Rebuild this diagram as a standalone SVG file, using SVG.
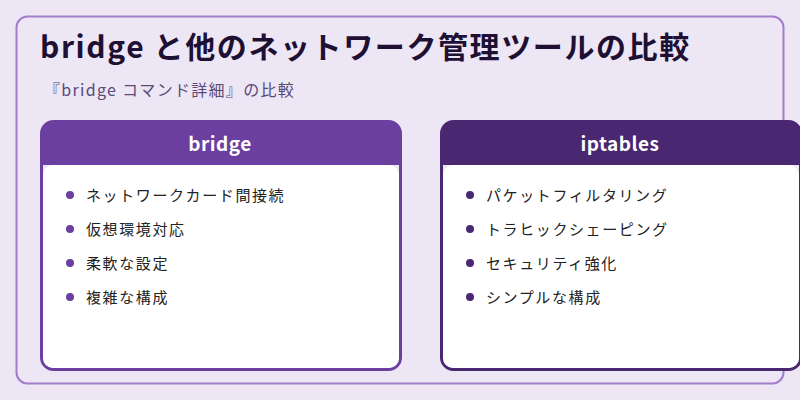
<svg xmlns="http://www.w3.org/2000/svg" width="800" height="400" viewBox="0 0 800 400">
<style>
text{font-family:"Noto Sans CJK JP","Noto Sans",sans-serif}
.t{font-size:30px;font-weight:bold;fill:#1e1033;letter-spacing:1.6px}
.s{font-size:16px;fill:#5a4a78;letter-spacing:1.3px}
.h{font-size:19px;font-weight:bold;fill:#fff;letter-spacing:0.5px}
.i{font-size:15px;fill:#222;letter-spacing:1.6px}
</style>
<rect width="800" height="400" fill="#ede6f5"/>
<rect x="16.5" y="16.5" width="767" height="367" rx="11" fill="none" stroke="#a07ccc" stroke-width="2"/>
<text class="t" x="40" y="58">bridge と他のネットワーク管理ツールの比較</text>
<text class="s" x="44" y="96">『bridge コマンド詳細』の比較</text>
<g id="bridge">
<path d="M41.5 133 a12 12 0 0 1 12-12 h335 a12 12 0 0 1 12 12 v32 h-359z" fill="#6b3fa0"/>
<rect x="41.5" y="121.5" width="359" height="248" rx="12" fill="none" stroke="#6b3fa0" stroke-width="3"/>
<rect x="43" y="165" width="356" height="203" rx="10" fill="#fff"/>
<text class="h" x="220" y="151" text-anchor="middle">bridge</text>
<g fill="#6b3fa0"><circle cx="70" cy="195" r="4"/><circle cx="70" cy="229" r="4"/><circle cx="70" cy="263" r="4"/><circle cx="70" cy="297" r="4"/></g>
<text class="i" x="86" y="201">ネットワークカード間接続</text>
<text class="i" x="86" y="235">仮想環境対応</text>
<text class="i" x="86" y="269">柔軟な設定</text>
<text class="i" x="86" y="303">複雑な構成</text>
</g>
<g id="iptables">
<path d="M441.5 133 a12 12 0 0 1 12-12 h335 a12 12 0 0 1 12 12 v32 h-359z" fill="#4a2771"/>
<rect x="441.5" y="121.5" width="359" height="248" rx="12" fill="none" stroke="#4a2771" stroke-width="3"/>
<rect x="443" y="165" width="356" height="203" rx="10" fill="#fff"/>
<text class="h" x="620" y="151" text-anchor="middle">iptables</text>
<g fill="#4a2771"><circle cx="470" cy="195" r="4"/><circle cx="470" cy="229" r="4"/><circle cx="470" cy="263" r="4"/><circle cx="470" cy="297" r="4"/></g>
<text class="i" x="486" y="201">パケットフィルタリング</text>
<text class="i" x="486" y="235">トラヒックシェーピング</text>
<text class="i" x="486" y="269">セキュリティ強化</text>
<text class="i" x="486" y="303">シンプルな構成</text>
</g>
<g id="connectors"/>
</svg>
